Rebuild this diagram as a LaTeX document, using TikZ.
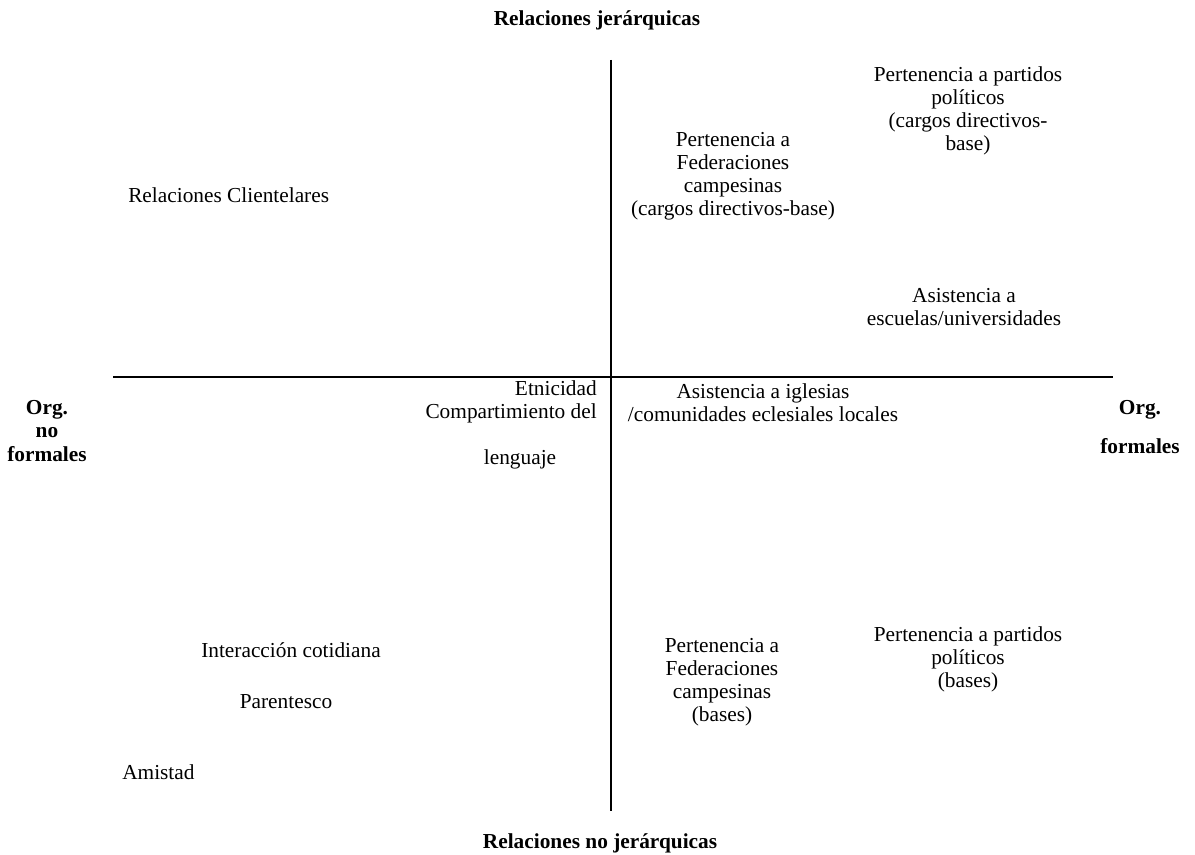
\documentclass[tikz,border=0pt]{standalone}
\usepackage{fontspec}
\setmainfont{Liberation Serif}
\begin{document}
\begin{tikzpicture}[x=0.75pt,y=-0.75pt,
  lbl/.style={inner sep=0pt,align=center,font=\fontsize{16}{17.3}\selectfont},
  blbl/.style={lbl,font=\fontsize{16}{17.3}\selectfont\bfseries},
  axis/.style={line width=1.5pt}]
\useasboundingbox (0,0) rectangle (1195,855);
% axes
\coordinate (vtop) at (611,60);
\coordinate (vbot) at (611,811);
\coordinate (hleft) at (113,377);
\coordinate (hright) at (1113,377);
\draw[axis] (vtop) -- (vbot);
\draw[axis] (hleft) -- (hright);
% axis titles
\node[blbl] (top) at (597,20) {Relaciones jerárquicas};
\node[blbl] (bot) at (600,843) {Relaciones no jerárquicas};
\node[blbl] (left) at (47,431) {Org.\\no\\formales};
\node[blbl] (right1) at (1140,410) {Org.};
\node[blbl] (right2) at (1140,446) {formales};
% upper left
\node[lbl,anchor=west] (clien) at (128,195) {Relaciones Clientelares};
% upper right
\node[lbl] (fedtop) at (733,176) {Pertenencia a\\Federaciones\\campesinas\\(cargos directivos-base)};
\node[lbl] (partop) at (968,111) {Pertenencia a partidos\\políticos\\(cargos directivos-\\base)};
\node[lbl] (escuelas) at (964,307) {Asistencia a\\escuelas/universidades};
% centre
\node[lbl,align=right,anchor=north east] (etni) at (597,380) {Etnicidad\\Compartimiento del};
\node[lbl] (lenguaje) at (520,459) {lenguaje};
\node[lbl] (iglesias) at (763,403) {Asistencia a iglesias\\/comunidades eclesiales locales};
% lower left
\node[lbl] (inter) at (291,650) {Interacción cotidiana};
\node[lbl] (paren) at (286,702) {Parentesco};
\node[lbl,anchor=west] (amistad) at (122,772) {Amistad};
% lower right
\node[lbl] (fedbot) at (722,682) {Pertenencia a\\Federaciones\\campesinas\\(bases)};
\node[lbl] (parbot) at (968,659) {Pertenencia a partidos\\políticos\\(bases)};
\end{tikzpicture}
\end{document}
